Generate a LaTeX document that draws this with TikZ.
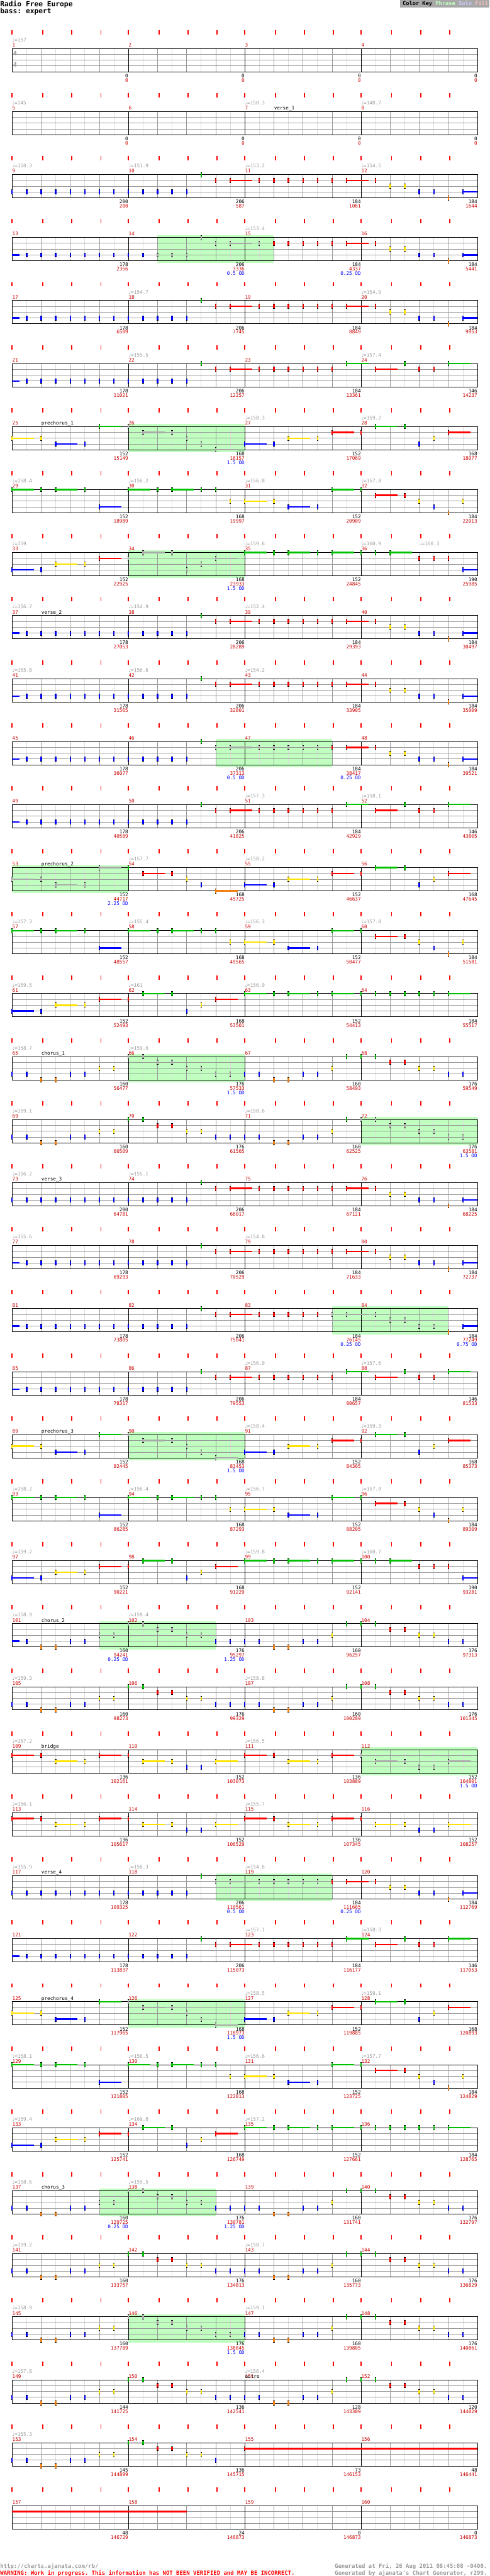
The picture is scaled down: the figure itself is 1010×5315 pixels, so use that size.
\documentclass[tikz,border=0pt]{standalone}
\usepackage{fontspec}
\setmonofont{DejaVu Sans Mono}
\newfontfamily\notefont{DejaVu Sans}
\definecolor{lane0}{RGB}{0,192,0}
\definecolor{lane1}{RGB}{255,0,0}
\definecolor{lane2}{RGB}{255,226,0}
\definecolor{lane3}{RGB}{0,0,255}
\definecolor{lane4}{RGB}{240,128,16}
\definecolor{phrasegray}{RGB}{170,170,170}
\definecolor{phrasegreen}{RGB}{192,255,192}
\definecolor{gridgray}{RGB}{153,153,153}
\definecolor{gridlight}{RGB}{221,221,221}
\definecolor{tickred}{RGB}{255,0,0}
\definecolor{numred}{RGB}{204,0,0}
\definecolor{textgray}{RGB}{153,153,153}
\definecolor{keygray}{RGB}{168,168,168}
\definecolor{solopurple}{RGB}{204,204,255}
\definecolor{fillpink}{RGB}{255,192,192}

% note lists: position (eighths) / lane / sustain end (0 = none)
\def\bluerun{1/3/0,2/3/0,3/3/0,4/3/0,5/3/0,6/3/0,7/3/0,8/3/0,9/3/0,10/3/0,11/3/0,12/3/0}
\def\runA{13/0/0,14/1/0,15/1/16.5,17/1/0,18/1/0,19/1/0,20/1/0,21/1/0,22/1/0}
\def\tailA{23/1/24.5,25/1/0,26/2/0,27/2/0,28/3/0,29/3/0,30/4/0,31/3/32}
\def\tailB{23/0/24.5,25/1/26.5,27/0/0,28/1/0,29/1/0,30/0/31.5}
\def\preA{0/2/1.5,2/2/0,3/3/4.5,5/3/0,6/0/7.5}
\def\preM{8/0/0,9/1/10.5,11/1/0,12/2/0,13/3/0,14/4/15.5}
\def\preB{16/3/17.5,18/3/0,19/2/20.5,21/2/0,22/1/23.5,24/1/0,25/0/26.5,27/0/0,28/3/0,29/2/0,30/1/31.5}
\def\grnA{0/0/1.5,2/0/0,3/0/4.5,5/0/0,6/3/7.5,8/0/9.5,10/0/0,11/0/12.5,13/0/0,14/0/0,15/2/0,16/2/17.5,18/2/0,19/3/20.5,21/3/0,22/0/23.5,24/0/0,25/1/26.5,27/1/0,28/2/0,29/3/0,30/4/0,31/2/0}
\def\chA{0/3/1.5,2/3/0,3/2/4.5,5/2/0,6/1/7.5}
\def\chM{8/1/0,9/0/10.5,11/0/0,12/3/0,13/2/0,14/1/15.5}
\def\chB{16/0/17.5,18/0/0,19/0/20.5,21/0/0,22/0/23.5,24/0/0,25/0/0}
\def\corA{0/3/0,1/3/0,2/4/0,3/4/0,4/3/0,5/3/0}
\def\corX{6/2/0,7/2/0}
\def\corM{8/0/0,9/0/0,10/1/0,11/1/0,12/2/0,13/2/0}
\def\corY{14/3/0,15/3/0}
\def\corB{16/3/0,17/3/0,18/4/0,19/4/0,20/3/0,21/3/0,22/2/0,23/0/0}
\def\corC{24/0/0,25/0/0,26/1/0,27/1/0,28/2/0,29/2/0,30/3/0,31/3/0}
\def\brgA{0/1/1.5,2/1/0,3/2/4.5,5/2/0,6/1/7.5,8/1/0,9/2/10.5,11/2/0,12/3/0,13/3/0,14/2/15.5}
\def\brgB{16/1/17.5,18/1/0,19/2/20.5,21/2/0,22/1/23.5}
\def\brgC{24/1/0,25/2/26.5,27/2/0,28/3/0,29/3/0,30/2/31.5}

\newcommand\notes[1]{%
  \edef\notelist{#1}%
  \foreach \k/\l/\e in \notelist {%
    \pgfmathsetmacro\xx{25+30*\k}%
    \pgfmathsetmacro\yy{100+12*\l}%
    \ifdim\e pt>0pt
      \pgfmathsetmacro\xe{25+30*\e}%
      \draw[sus,lane\l] (\xx,\yy) -- (\xe,\yy);
    \fi
    \fill[lane\l] (\xx-1.5,\yy-5) rectangle (\xx+1.5,\yy+5);
    \fill (\xx-1.5,\yy-5) rectangle (\xx+1.5,\yy-4);
    \fill (\xx-1.5,\yy+4) rectangle (\xx+1.5,\yy+5);
  }}
\newcommand\gnotes[1]{\begingroup
  \colorlet{lane0}{phrasegray}\colorlet{lane1}{phrasegray}\colorlet{lane2}{phrasegray}%
  \colorlet{lane3}{phrasegray}\colorlet{lane4}{phrasegray}%
  \notes{#1}\endgroup}
\newcommand\cont[2]{\draw[sus,lane#1] (25,100+12*#1) -- (25+30*#2,100+12*#1);}
\newcommand\tempo[2]{\node[tempo] at (25+30*#1,86) {{\notefont ♩}=#2};}
\newcommand\sect[2]{\node[sect] at (25+30*#1,96.5) {#2};}
\newcommand\scores[1]{\foreach \j/\s/\t in {#1}{%
  \node[score] at (265+240*\j,160) {\s};
  \node[total] at (265+240*\j,169) {\t};}}
\newcommand\od[2]{\node[odtxt] at (265+240*#1,178) {#2};}

\begin{document}
\begin{tikzpicture}[x=1pt,y=-1pt,line width=1pt,
    txt/.style={font=\ttfamily\fontsize{10}{10}\selectfont,inner sep=0pt},
    mnum/.style={txt,text=numred,anchor=base west},
    tempo/.style={txt,text=textgray,anchor=base west},
    sect/.style={txt,anchor=base west},
    score/.style={txt,anchor=base east},
    total/.style={txt,text=numred,anchor=base east},
    odtxt/.style={txt,text=lane3,anchor=base east},
    bigtxt/.style={font=\ttfamily\bfseries\fontsize{11.6}{12}\selectfont,inner sep=0pt,anchor=base west},
    sus/.style={line width=3pt}]
\useasboundingbox (0,0) rectangle (1010,5315);

% header
\node[font=\ttfamily\bfseries\fontsize{14.6}{15}\selectfont,inner sep=0pt,anchor=base west] (title) at (0,13.3) {Radio Free Europe};
\node[font=\ttfamily\bfseries\fontsize{14.6}{15}\selectfont,inner sep=0pt,anchor=base west] (part) at (0,27.3) {bass: expert};
\fill[keygray] (825,0) rectangle (1010,15.7);
\node[font=\ttfamily\bfseries\fontsize{11.3}{12}\selectfont,inner sep=0pt,anchor=base west] (key) at (830,11)
  {Color Key \textcolor{phrasegreen}{Phrase} \textcolor{solopurple}{Solo} \textcolor{fillpink}{Fill}};

% phrase boxes (row / from / to)
\foreach \r/\a/\b in {3/10/18,6/8/16,8/8/16,11/14/22,13/0/8,16/8/16,17/24/32,20/22/30,
    22/8/16,25/6/14,27/24/32,29/14/22,31/8/16,34/6/14,36/8/16}
  \fill[phrasegreen] (25+30*\a,95+130*\r) rectangle (25+30*\b,153+130*\r);

% staff grid, beat ticks, measure numbers
\foreach \r in {0,...,39}{
  \begin{scope}[shift={(0,130*\r)}]
    \foreach \k in {1,3,...,31} \draw[gridlight] (25+30*\k,100) -- ++(0,48);
    \foreach \k in {1,2,3,5,6,7,9,10,11,13,14,15} \draw[gridgray] (25+60*\k,100) -- ++(0,48);
    \foreach \yy in {112,124,136} \draw[gridgray] (25,\yy) -- (985,\yy);
    \draw (25,100) rectangle (985,148);
    \foreach \j in {1,2,3} \draw (25+240*\j,100) -- ++(0,48);
    \foreach \j in {0,...,3}{
      \pgfmathtruncatemacro\m{4*\r+\j+1}
      \node[mnum] (m\m) at (25+240*\j,96.5) {\m};
      \foreach \t in {0,63,123,183} \fill[tickred] (24+240*\j+\t,62) rectangle ++(2,9);
    }
  \end{scope}}

% time signature
\node[font=\ttfamily\bfseries\fontsize{13}{13}\selectfont,text=textgray,inner sep=0pt] (tsup) at (31,110) {4};
\node[font=\ttfamily\bfseries\fontsize{13}{13}\selectfont,text=textgray,inner sep=0pt] (tsdn) at (31,133) {4};

% rows
\begin{scope}[shift={(0,0)}]
  \tempo{0}{157}
  \scores{0/0/0,1/0/0,2/0/0,3/0/0}
\end{scope}
\begin{scope}[shift={(0,130)}]
  \tempo{0}{145}\tempo{16}{150.3}\tempo{24}{148.7}\sect{18}{verse\_1}
  \scores{0/0/0,1/0/0,2/0/0,3/0/0}
\end{scope}
\begin{scope}[shift={(0,260)}]
  \tempo{0}{150.3}\tempo{8}{151.9}\tempo{16}{153.2}\tempo{24}{154.5}
  \notes{0/3/0,\bluerun,\runA,\tailA}
  \scores{0/200/200,1/206/587,2/184/1061,3/184/1644}
\end{scope}
\begin{scope}[shift={(0,390)}]
  \tempo{16}{153.4}
  \cont{3}{0.5}
  \notes{1/3/0,2/3/0,3/3/0,4/3/0,5/3/0,6/3/0,7/3/0,8/3/0,9/3/0}
  \gnotes{10/3/0,11/3/0,12/3/0,13/0/0,14/1/0,15/1/16.5,17/1/0}
  \notes{18/1/0,19/1/0,20/1/0,21/1/0,22/1/0,\tailA}
  \scores{0/178/2356,1/206/3336,2/184/4337,3/184/5441}
  \od{1}{0.5 OD}\od{2}{0.25 OD}
\end{scope}
\begin{scope}[shift={(0,520)}]
  \tempo{8}{154.7}\tempo{24}{154.9}
  \cont{3}{0.5}
  \notes{\bluerun,\runA,\tailA}
  \scores{0/178/6509,1/206/7745,2/184/8849,3/184/9953}
\end{scope}
\begin{scope}[shift={(0,650)}]
  \tempo{8}{155.5}\tempo{24}{157.4}
  \cont{3}{0.5}
  \notes{\bluerun,\runA,\tailB}
  \scores{0/178/11021,1/206/12257,2/184/13361,3/146/14237}
\end{scope}
\begin{scope}[shift={(0,780)}]
  \sect{2}{prechorus\_1}\tempo{16}{158.3}\tempo{24}{159.2}
  \notes{\preA}\gnotes{\preM}\notes{\preB}
  \scores{0/152/15149,1/168/16157,2/152/17069,3/168/18077}
  \od{1}{1.5 OD}
\end{scope}
\begin{scope}[shift={(0,910)}]
  \tempo{0}{158.4}\tempo{8}{156.2}\tempo{16}{156.8}\tempo{24}{157.8}
  \notes{\grnA}
  \scores{0/152/18989,1/168/19997,2/152/20909,3/184/22013}
\end{scope}
\begin{scope}[shift={(0,1040)}]
  \tempo{0}{159}\tempo{16}{159.6}\tempo{24}{160.9}\tempo{28}{160.3}
  \notes{\chA}\gnotes{\chM}
  \notes{\chB,26/0/27.5,28/1/0,29/1/0,30/1/0,31/3/32}
  \scores{0/152/22925,1/168/23933,2/152/24845,3/190/25985}
  \od{1}{1.5 OD}
\end{scope}
\begin{scope}[shift={(0,1170)}]
  \sect{2}{verse\_2}\tempo{0}{156.7}\tempo{8}{154.9}\tempo{16}{152.4}
  \cont{3}{0.5}
  \notes{\bluerun,\runA,\tailA}
  \scores{0/178/27053,1/206/28289,2/184/29393,3/184/30497}
\end{scope}
\begin{scope}[shift={(0,1300)}]
  \tempo{0}{155.8}\tempo{8}{156.6}\tempo{16}{154.2}
  \cont{3}{0.5}
  \notes{\bluerun,\runA,\tailA}
  \scores{0/178/31565,1/206/32801,2/184/33905,3/184/35009}
\end{scope}
\begin{scope}[shift={(0,1430)}]
  \cont{3}{0.5}
  \notes{\bluerun,13/0/0}
  \gnotes{14/1/0,15/1/16.5,17/1/0,18/1/0,19/1/0,20/1/0,21/1/0}
  \notes{22/1/0,\tailA}
  \scores{0/178/36077,1/206/37313,2/184/38417,3/184/39521}
  \od{1}{0.5 OD}\od{2}{0.25 OD}
\end{scope}
\begin{scope}[shift={(0,1560)}]
  \tempo{16}{157.3}\tempo{24}{158.1}
  \cont{3}{0.5}
  \notes{\bluerun,\runA,\tailB}
  \scores{0/178/40589,1/206/41825,2/184/42929,3/146/43805}
\end{scope}
\begin{scope}[shift={(0,1690)}]
  \sect{2}{prechorus\_2}\tempo{8}{157.7}\tempo{16}{158.2}
  \gnotes{\preA}\notes{\preM,\preB}
  \scores{0/152/44717,1/168/45725,2/152/46637,3/168/47645}
  \od{0}{2.25 OD}
\end{scope}
\begin{scope}[shift={(0,1820)}]
  \tempo{0}{157.3}\tempo{8}{155.4}\tempo{16}{156.3}\tempo{24}{157.8}
  \notes{\grnA}
  \scores{0/152/48557,1/168/49565,2/152/50477,3/184/51581}
\end{scope}
\begin{scope}[shift={(0,1950)}]
  \tempo{0}{159.5}\tempo{8}{161}\tempo{16}{156.9}
  \notes{\chA,\chM,\chB,26/0/0,27/0/0,28/0/0,29/0/0,30/0/31.5}
  \scores{0/152/52493,1/168/53501,2/152/54413,3/184/55517}
\end{scope}
% chorus_1
\begin{scope}[shift={(0,2080)}]
  \sect{2}{chorus\_1}\tempo{0}{158.7}\tempo{8}{159.6}
  \notes{\corA,\corX}\gnotes{\corM,\corY}\notes{\corB,\corC}
  \scores{0/160/56477,1/176/57533,2/160/58493,3/176/59549}
  \od{1}{1.5 OD}
\end{scope}
\begin{scope}[shift={(0,2210)}]
  \tempo{0}{159.1}\tempo{16}{158.6}
  \notes{\corA,\corX,\corM,\corY,\corB}\gnotes{\corC}
  \scores{0/160/60509,1/176/61565,2/160/62525,3/176/63581}
  \od{3}{1.5 OD}
\end{scope}
% verse_3
\begin{scope}[shift={(0,2340)}]
  \sect{2}{verse\_3}\tempo{0}{156.2}\tempo{8}{155.1}
  \notes{0/3/0,\bluerun,\runA,\tailA}
  \scores{0/200/64781,1/206/66017,2/184/67121,3/184/68225}
\end{scope}
\begin{scope}[shift={(0,2470)}]
  \tempo{0}{155.6}\tempo{16}{154.8}
  \cont{3}{0.5}
  \notes{\bluerun,\runA,\tailA}
  \scores{0/178/69293,1/206/70529,2/184/71633,3/184/72737}
\end{scope}
\begin{scope}[shift={(0,2600)}]
  \cont{3}{0.5}
  \notes{\bluerun,13/0/0,14/1/0,15/1/16.5,17/1/0,18/1/0,19/1/0,20/1/0,21/1/0}
  \gnotes{22/1/0,23/1/24.5,25/1/0,26/2/0,27/2/0,28/3/0,29/3/0}
  \notes{30/4/0,31/3/32}
  \scores{0/178/73805,1/206/75041,2/184/76145,3/184/77249}
  \od{2}{0.25 OD}\od{3}{0.75 OD}
\end{scope}
\begin{scope}[shift={(0,2730)}]
  \tempo{16}{156.9}\tempo{24}{157.6}
  \cont{3}{0.5}
  \notes{\bluerun,\runA,\tailB}
  \scores{0/178/78317,1/206/79553,2/184/80657,3/146/81533}
\end{scope}
% prechorus_3
\begin{scope}[shift={(0,2860)}]
  \sect{2}{prechorus\_3}\tempo{16}{158.4}\tempo{24}{159.3}
  \notes{\preA}\gnotes{\preM}\notes{\preB}
  \scores{0/152/82445,1/168/83453,2/152/84365,3/168/85373}
  \od{1}{1.5 OD}
\end{scope}
\begin{scope}[shift={(0,2990)}]
  \tempo{0}{158.2}\tempo{8}{156.4}\tempo{16}{156.7}\tempo{24}{157.9}
  \notes{\grnA}
  \scores{0/152/86285,1/168/87293,2/152/88205,3/184/89309}
\end{scope}
\begin{scope}[shift={(0,3120)}]
  \tempo{0}{159.2}\tempo{16}{159.8}\tempo{24}{160.7}
  \notes{\chA,\chM,\chB,26/0/27.5,28/1/0,29/1/0,30/1/0,31/3/32}
  \scores{0/152/90221,1/168/91229,2/152/92141,3/190/93281}
\end{scope}
% chorus_2
\begin{scope}[shift={(0,3250)}]
  \sect{2}{chorus\_2}\tempo{0}{158.9}\tempo{8}{159.4}
  \cont{3}{0.5}
  \notes{1/3/0,2/4/0,3/4/0,4/3/0,5/3/0}\gnotes{\corX,\corM}\notes{\corY,\corB,\corC}
  \scores{0/160/94241,1/176/95297,2/160/96257,3/176/97313}
  \od{0}{0.25 OD}\od{1}{1.25 OD}
\end{scope}
\begin{scope}[shift={(0,3380)}]
  \tempo{0}{159.3}\tempo{16}{158.8}
  \notes{\corA,\corX,\corM,\corY,\corB,\corC}
  \scores{0/160/98273,1/176/99329,2/160/100289,3/176/101345}
\end{scope}
% bridge
\begin{scope}[shift={(0,3510)}]
  \sect{2}{bridge}\tempo{0}{157.2}\tempo{16}{156.5}
  \notes{\brgA,\brgB}\gnotes{\brgC}
  \scores{0/136/102161,1/152/103073,2/136/103889,3/152/104801}
  \od{3}{1.5 OD}
\end{scope}
\begin{scope}[shift={(0,3640)}]
  \tempo{0}{156.1}\tempo{16}{155.7}
  \notes{\brgA,\brgB,\brgC}
  \scores{0/136/105617,1/152/106529,2/136/107345,3/152/108257}
\end{scope}
% verse_4
\begin{scope}[shift={(0,3770)}]
  \sect{2}{verse\_4}\tempo{0}{155.9}\tempo{8}{156.3}\tempo{16}{154.6}
  \notes{0/3/0,\bluerun,13/0/0}
  \gnotes{14/1/0,15/1/16.5,17/1/0,18/1/0,19/1/0,20/1/0,21/1/0}
  \notes{22/1/0,\tailA}
  \scores{0/178/109325,1/206/110561,2/184/111665,3/184/112769}
  \od{1}{0.5 OD}\od{2}{0.25 OD}
\end{scope}
\begin{scope}[shift={(0,3900)}]
  \tempo{16}{157.1}\tempo{24}{158.3}
  \cont{3}{0.5}
  \notes{\bluerun,\runA,\tailB}
  \scores{0/178/113837,1/206/115073,2/184/116177,3/146/117053}
\end{scope}
% prechorus_4
\begin{scope}[shift={(0,4030)}]
  \sect{2}{prechorus\_4}\tempo{16}{158.5}\tempo{24}{159.1}
  \notes{\preA}\gnotes{\preM}\notes{\preB}
  \scores{0/152/117965,1/168/118973,2/152/119885,3/168/120893}
  \od{1}{1.5 OD}
\end{scope}
\begin{scope}[shift={(0,4160)}]
  \tempo{0}{158.1}\tempo{8}{156.5}\tempo{16}{156.6}\tempo{24}{157.7}
  \notes{\grnA}
  \scores{0/152/121805,1/168/122813,2/152/123725,3/184/124829}
\end{scope}
\begin{scope}[shift={(0,4290)}]
  \tempo{0}{159.4}\tempo{8}{160.8}\tempo{16}{157.2}
  \notes{\chA,\chM,\chB,26/0/0,27/0/0,28/0/0,29/0/0,30/0/31.5}
  \scores{0/152/125741,1/168/126749,2/152/127661,3/184/128765}
\end{scope}
% chorus_3
\begin{scope}[shift={(0,4420)}]
  \sect{2}{chorus\_3}\tempo{0}{158.6}\tempo{8}{159.5}
  \notes{\corA}\gnotes{\corX,\corM}\notes{\corY,\corB,\corC}
  \scores{0/160/129725,1/176/130781,2/160/131741,3/176/132797}
  \od{0}{0.25 OD}\od{1}{1.25 OD}
\end{scope}
\begin{scope}[shift={(0,4550)}]
  \tempo{0}{159.2}\tempo{16}{158.7}
  \notes{\corA,\corX,\corM,\corY,\corB,\corC}
  \scores{0/160/133757,1/176/134813,2/160/135773,3/176/136829}
\end{scope}
\begin{scope}[shift={(0,4680)}]
  \tempo{0}{158.9}\tempo{16}{159.1}
  \notes{\corA,\corX}\gnotes{\corM,\corY}\notes{\corB,\corC}
  \scores{0/160/137789,1/176/138845,2/160/139805,3/176/140861}
  \od{1}{1.5 OD}
\end{scope}
% outro
\begin{scope}[shift={(0,4810)}]
  \sect{16}{outro}\tempo{0}{157.8}\tempo{16}{156.4}
  \notes{\corA,\corX,\corM,\corY,\corB,\corC}
  \scores{0/144/141725,1/136/142541,2/128/143309,3/120/144029}
\end{scope}
\begin{scope}[shift={(0,4940)}]
  \tempo{0}{155.3}
  \notes{\corA,\corX,8/0/0,9/0/0,10/1/0,11/1/0,12/2/0,13/2/0,14/3/0,16/1/32}
  \scores{0/145/144899,1/136/145715,2/73/146153,3/48/146441}
\end{scope}
\begin{scope}[shift={(0,5070)}]
  \cont{1}{12}
  \scores{0/48/146729,1/24/146873,2/0/146873,3/0/146873}
\end{scope}

% footer
\node[bigtxt,text=textgray] (url) at (0,5299) {http://charts.ajanata.com/rb/};
\node[bigtxt,text=tickred] (warn) at (0,5312.7) {WARNING: Work in progress. This information has NOT BEEN VERIFIED and MAY BE INCORRECT.};
\node[bigtxt,text=textgray] (genat) at (690,5299) {Generated at Fri, 26 Aug 2011 08:45:08 -0400.};
\node[bigtxt,text=textgray] (genby) at (690,5312.7) {Generated by ajanata's Chart Generator, r299.};
\end{tikzpicture}
\end{document}
